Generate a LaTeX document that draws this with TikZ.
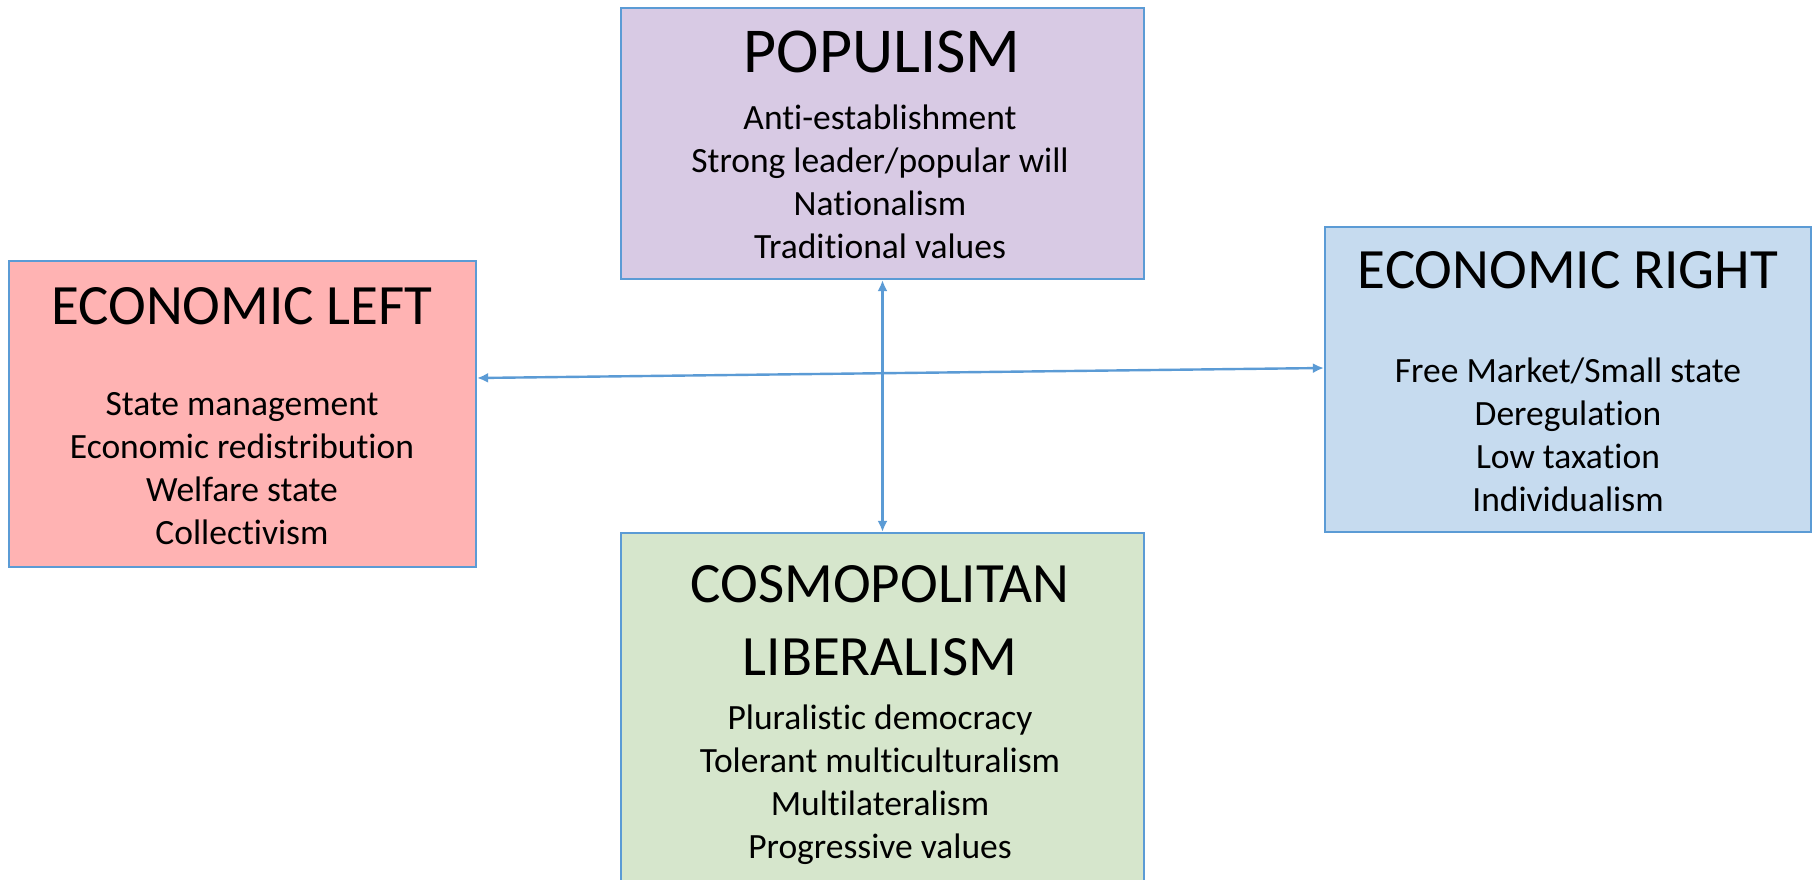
\documentclass[tikz,border=0pt]{standalone}
\usepackage{fontspec}
\setmainfont{Carlito}[Ligatures=NoCommon]
\usetikzlibrary{arrows.meta}
\definecolor{bordc}{HTML}{5B9BD5}
\definecolor{popfill}{HTML}{D8CAE4}
\definecolor{leftfill}{HTML}{FFB3B3}
\definecolor{rightfill}{HTML}{C6DBEF}
\definecolor{cosfill}{HTML}{D6E6CC}
\begin{document}
\begin{tikzpicture}[x=1pt,y=-1pt,
  box/.style={draw=bordc, line width=2.2pt, inner sep=0pt, rectangle},
  ttl/.style={align=center, inner sep=0pt, font=\fontsize{57}{73}\selectfont},
  body/.style={align=center, inner sep=0pt, font=\fontsize{35.5}{43}\selectfont},
  link/.style={draw=bordc, line width=2.4pt, {Latex[length=11pt,width=10pt]}-{Latex[length=11pt,width=10pt]}}]
\useasboundingbox (0,0) rectangle (1813,880);
\clip (0,0) rectangle (1813,880);
\fill[white] (0,0) rectangle (1813,880);
% boxes
\node[box, fill=popfill, minimum width=523pt, minimum height=271pt] (pop) at (882.5,143.5) {};
\node[box, fill=leftfill, minimum width=467pt, minimum height=306pt] (left) at (242.5,414) {};
\node[box, fill=rightfill, minimum width=486pt, minimum height=305pt] (right) at (1568,379.5) {};
\node[box, fill=cosfill, minimum width=523pt, minimum height=367pt] (cos) at (882.5,716.5) {};
% texts
\node[ttl, font=\fontsize{64}{73}\selectfont] (popt) at (882,52) {POPULISM};
\node[body] (popb) at (880,181.5) {Anti-establishment\\Strong leader/popular will\\Nationalism\\Traditional values};
\node[ttl] (leftt) at (242,306) {ECONOMIC LEFT};
\node[body] (leftb) at (242,469) {State management\\Economic redistribution\\Welfare state\\Collectivism};
\node[ttl] (rightt) at (1568,270) {ECONOMIC RIGHT};
\node[body] (rightb) at (1568,435) {Free Market/Small state\\Deregulation\\Low taxation\\Individualism};
\node[ttl] (cost) at (880,620.5) {COSMOPOLITAN\\LIBERALISM};
\node[body] (cosb) at (880,785) {Pluralistic democracy\\Tolerant multiculturalism\\Multilateralism\\Progressive values};
% connectors
\draw[link] (pop.south) -- (cos.north);
\draw[link] ([yshift=36pt]left.east) -- ([yshift=11.5pt]right.west);
\end{tikzpicture}
\end{document}
